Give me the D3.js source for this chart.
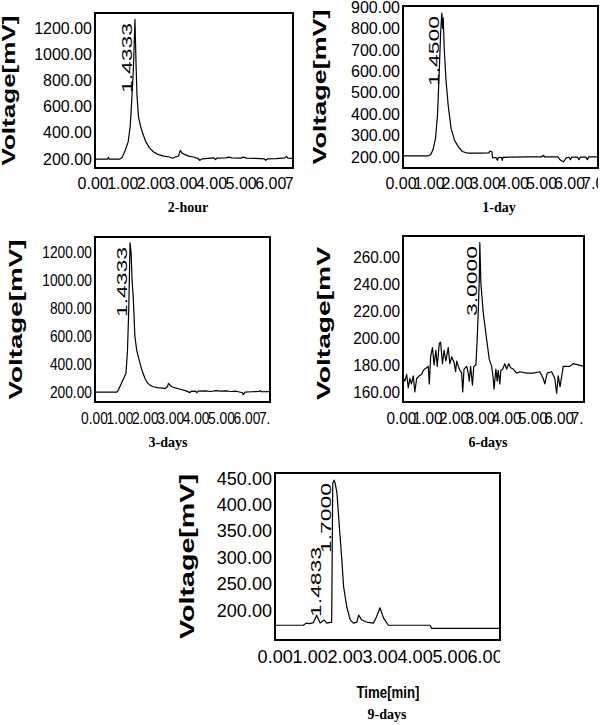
<!DOCTYPE html>
<html>
<head>
<meta charset="utf-8">
<script src="https://cdn.jsdelivr.net/npm/d3@7"></script>
<style>
  body { margin: 0; background: #fff; }
  svg { display: block; }
</style>
</head>
<body>
<div id="chart"></div>
<script>
// ---- data: [time (min), voltage (mV)] ----
const trace2h = [[0.08,198],[0.5,198],[0.53,212],[0.56,198],[0.9,198],[1.0,212],[1.1,265],[1.2,330],[1.27,450],[1.33,680],
  [1.38,900],[1.43,1265],[1.47,900],[1.5,680],[1.55,520],[1.62,450],[1.7,390],[1.8,330],[1.92,285],[2.05,255],[2.2,235],
  [2.4,222],[2.6,215],[2.7,205],[2.8,215],[2.9,222],[2.96,265],[3.02,245],[3.1,235],[3.25,222],[3.4,215],[3.55,205],
  [3.62,190],[3.7,200],[3.9,205],[4.1,208],[4.15,195],[4.2,207],[4.5,208],[4.6,214],[4.7,208],[5.0,206],[5.1,214],
  [5.2,206],[5.5,205],[5.8,200],[5.85,190],[5.9,200],[6.2,203],[6.5,208],[6.55,220],[6.6,206],[6.77,205]];

const trace1d = [[0.09,206],[1.0,206],[1.08,212],[1.16,235],[1.25,290],[1.32,400],[1.38,600],[1.43,780],[1.47,872],
  [1.5,800],[1.52,850],[1.56,700],[1.62,560],[1.7,440],[1.8,335],[1.92,280],[2.05,250],[2.2,226],[2.4,218],[2.8,218],
  [3.15,219],[3.17,228],[3.25,226],[3.28,196],[3.4,198],[3.45,185],[3.48,198],[3.6,199],[3.62,185],[3.65,199],[4.0,200],
  [4.5,201],[5.0,201],[5.1,208],[5.12,201],[5.6,201],[5.7,185],[5.8,178],[5.9,196],[6.0,199],[6.05,188],[6.1,200],
  [6.3,200],[6.35,188],[6.4,200],[6.6,200],[6.65,188],[6.7,201],[7.03,201]];

const trace3d = [[0.04,200],[0.9,200],[0.95,212],[1.05,250],[1.15,290],[1.26,335],[1.32,500],[1.37,800],[1.42,1265],
  [1.46,1200],[1.5,1000],[1.55,860],[1.61,600],[1.68,500],[1.75,450],[1.88,360],[2.0,300],[2.07,275],[2.2,250],[2.33,238],
  [2.5,232],[2.72,228],[2.8,225],[2.9,240],[2.93,262],[3.0,250],[3.06,238],[3.2,230],[3.39,220],[3.6,210],[3.78,196],
  [3.82,205],[4.0,207],[4.05,195],[4.1,207],[4.4,208],[4.6,204],[4.8,210],[5.0,206],[5.2,208],[5.4,204],[5.6,206],
  [5.85,195],[5.87,180],[5.95,200],[6.2,202],[6.5,204],[6.55,210],[6.6,202],[6.93,203]];

const trace6d = [[0.09,170],[0.15,168],[0.22,173],[0.28,163],[0.34,170],[0.4,166],[0.47,172],[0.53,160],[0.6,170],
  [0.7,172],[0.79,173],[0.85,176],[0.91,177],[1.04,179],[1.08,166],[1.13,186],[1.2,193],[1.26,180],[1.33,191],[1.38,179],
  [1.46,196],[1.51,197],[1.58,181],[1.64,191],[1.71,183],[1.8,193],[1.86,181],[1.93,186],[2.02,182],[2.08,175],[2.12,183],
  [2.22,177],[2.31,174],[2.35,160],[2.4,177],[2.5,179],[2.56,174],[2.6,168],[2.65,179],[2.72,165],[2.77,179],[2.85,180],
  [2.9,199],[2.94,219],[2.98,244],[3.0,271],[3.04,241],[3.13,219],[3.26,199],[3.36,184],[3.45,179],[3.51,170],[3.54,162],
  [3.61,177],[3.66,168],[3.7,176],[3.76,166],[3.8,176],[3.87,177],[3.95,181],[4.02,177],[4.1,181],[4.17,178],[4.27,177],
  [4.4,174],[4.52,175],[4.78,174],[5.03,174],[5.28,175],[5.41,170],[5.47,166],[5.56,174],[5.73,175],[5.85,170],[5.92,159],
  [5.98,172],[6.05,164],[6.17,179],[6.42,179],[6.55,181],[6.96,179]];

const trace9d = [[0.01,171],[0.82,171],[0.9,175],[1.0,174],[1.11,176],[1.2,190],[1.3,175],[1.41,181],[1.49,175],[1.63,177],
  [1.66,440],[1.7,446],[1.73,440],[1.78,422],[1.85,357],[1.92,295],[1.97,244],[2.06,206],[2.16,181],[2.25,175],[2.35,177],
  [2.4,190],[2.49,181],[2.63,177],[2.82,175],[2.9,185],[3.01,204],[3.11,185],[3.25,171],[4.44,171],[4.49,165],[6.44,165]];

const captions = ["2-hour", "1-day", "3-days", "6-days", "9-days"];
const xTicks7 = [0, 1, 2, 3, 4, 5, 6, 7];
const xTicks6 = [0, 1, 2, 3, 4, 5, 6];
const yTicks2h = [200, 400, 600, 800, 1000, 1200];
const yTicks1d = [200, 300, 400, 500, 600, 700, 800, 900];
const yTicks3d = [200, 400, 600, 800, 1000, 1200];
const yTicks6d = [160, 180, 200, 220, 240, 260];
const yTicks9d = [200, 250, 300, 350, 400, 450];
const peaks2h = [[1.43, "1.4333"]];
const peaks1d = [[1.47, "1.4500"]];
const peaks3d = [[1.42, "1.4333"]];
const peaks6d = [[3.0, "3.0000"]];
const peaks9d = [[1.41, "1.4833"], [1.7, "1.7000"]];

// ---- layout (pixel boxes of each panel) ----
const panels = [
  {trace: trace2h, yTicks: yTicks2h, xTicks: xTicks7, peaks: peaks2h, cap: captions[0],
   box: [95, 13, 293, 168], xDom: [0.08, 6.77], yDom: [131, 1314], font: 16, squeeze: 1,
   title: "Voltage[mV]", titleX: 9, titleLen: 150, capX: 188, capY: 212},
  {trace: trace1d, yTicks: yTicks1d, xTicks: xTicks7, peaks: peaks1d, cap: captions[1],
   box: [403, 6, 598, 168], xDom: [0.09, 7.03], yDom: [149, 905], font: 16, squeeze: 1,
   title: "Voltage[mV]", titleX: 320, titleLen: 155, capX: 499, capY: 212},
  {trace: trace3d, yTicks: yTicks3d, xTicks: xTicks7, peaks: peaks3d, cap: captions[2],
   box: [95, 237, 270, 402], xDom: [0.04, 6.93], yDom: [129, 1307], font: 17, squeeze: 0.81,
   title: "Voltage[mV]", titleX: 16, titleLen: 160, capX: 168, capY: 447},
  {trace: trace6d, yTicks: yTicks6d, xTicks: xTicks7, peaks: peaks6d, cap: captions[3],
   box: [403, 236, 584, 402], xDom: [0.08, 6.96], yDom: [152.5, 276], font: 17, squeeze: 0.9,
   title: "Voltage[mV", titleX: 324, titleLen: 153, titleStart: 400, capX: 488, capY: 447},
  {trace: trace9d, yTicks: yTicks9d, xTicks: xTicks6, peaks: peaks9d, cap: captions[4],
   box: [275, 473, 500, 640], xDom: [0.01, 6.44], yDom: [143, 459.5], font: 19, squeeze: 0.95,
   title: "Voltage[mV]", titleX: 187, titleLen: 165, capX: 387, capY: 719, xTitle: "Time[min]"}
];

const W = 600, H = 725;
const sans = "'Liberation Sans', Arial, sans-serif";
const serif = "'Liberation Serif', 'Times New Roman', serif";

const svg = d3.select("#chart").append("svg")
  .attr("width", W)
  .attr("height", H);

function squeezeText(sel, k) {
  sel.each(function () {
    if (k === 1) return;
    const w = this.getComputedTextLength();
    d3.select(this).attr("textLength", w * k).attr("lengthAdjust", "spacingAndGlyphs");
  });
}

panels.forEach((p, i) => {
  const [x0, y0, x1, y1] = p.box;
  const w = x1 - x0, h = y1 - y0;

  const x = d3.scaleLinear().domain(p.xDom).range([0, w]);
  const y = d3.scaleLinear().domain(p.yDom).range([h, 0]);

  const g = svg.append("g").attr("transform", "translate(" + x0 + "," + y0 + ")");

  // clip paths: trace stays inside the frame, x labels are cut at the right edge
  const defs = g.append("defs");
  defs.append("clipPath").attr("id", "plot" + i)
    .append("rect").attr("width", w).attr("height", h);
  defs.append("clipPath").attr("id", "xlab" + i)
    .append("rect").attr("x", -60).attr("y", -5).attr("width", w + 60).attr("height", 40);

  // y axis labels (no tick marks)
  const yAxis = g.append("g")
    .call(d3.axisLeft(y).tickValues(p.yTicks).tickSize(0).tickPadding(3).tickFormat(d3.format(".2f")));
  yAxis.select(".domain").remove();
  yAxis.selectAll("text").attr("font-family", sans).attr("font-size", p.font).attr("fill", "#000")
    .call(squeezeText, p.squeeze);

  // x axis labels, overlapping as in the original software output
  const xAxis = g.append("g")
    .attr("transform", "translate(0," + h + ")")
    .attr("clip-path", "url(#xlab" + i + ")")
    .call(d3.axisBottom(x).tickValues(p.xTicks).tickSize(0).tickPadding(10).tickFormat(d3.format(".2f")));
  xAxis.select(".domain").remove();
  xAxis.selectAll("text").attr("font-family", sans).attr("font-size", p.font).attr("fill", "#000")
    .call(squeezeText, p.squeeze);

  // trace
  const line = d3.line().x(d => x(d[0])).y(d => y(d[1]));
  g.append("path")
    .datum(p.trace)
    .attr("clip-path", "url(#plot" + i + ")")
    .attr("d", line)
    .attr("fill", "none")
    .attr("stroke", "#000")
    .attr("stroke-width", 1.2)
    .attr("stroke-linejoin", "round");

  // frame
  g.append("rect")
    .attr("width", w).attr("height", h)
    .attr("fill", "none")
    .attr("stroke", "#000")
    .attr("stroke-width", 2);

  // peak retention-time labels (vertical)
  p.peaks.forEach(([t, label]) => {
    const near = p.trace.filter(d => Math.abs(d[0] - t) < 0.08);
    const apex = d3.max(near, d => d[1]);
    const ty = Math.max(y(apex) - 3, 80);
    g.append("text")
      .attr("transform", "translate(" + (x(t) - 3) + "," + ty + ") rotate(-90)")
      .attr("font-family", sans)
      .attr("font-size", 14)
      .attr("textLength", 70)
      .attr("lengthAdjust", "spacingAndGlyphs")
      .text(label);
  });

  // y title
  const ty = p.titleStart !== undefined ? p.titleStart : (y0 + y1) / 2;
  svg.append("text")
    .attr("transform", "translate(" + p.titleX + "," + ty + ") rotate(-90)")
    .attr("text-anchor", p.titleStart !== undefined ? "start" : "middle")
    .attr("dominant-baseline", "central")
    .attr("font-family", sans)
    .attr("font-weight", "bold")
    .attr("font-size", i === 4 ? 20 : 18)
    .attr("textLength", p.titleLen)
    .attr("lengthAdjust", "spacingAndGlyphs")
    .text(p.title);

  if (p.xTitle) {
    svg.append("text")
      .attr("x", 388).attr("y", 698)
      .attr("text-anchor", "middle")
      .attr("font-family", sans)
      .attr("font-weight", "bold")
      .attr("font-size", 17)
      .attr("textLength", 63)
      .attr("lengthAdjust", "spacingAndGlyphs")
      .text(p.xTitle);
  }

  // caption
  svg.append("text")
    .attr("x", p.capX).attr("y", p.capY)
    .attr("text-anchor", "middle")
    .attr("font-family", serif)
    .attr("font-weight", "bold")
    .attr("font-size", 14)
    .text(p.cap);
});
</script>
</body>
</html>
